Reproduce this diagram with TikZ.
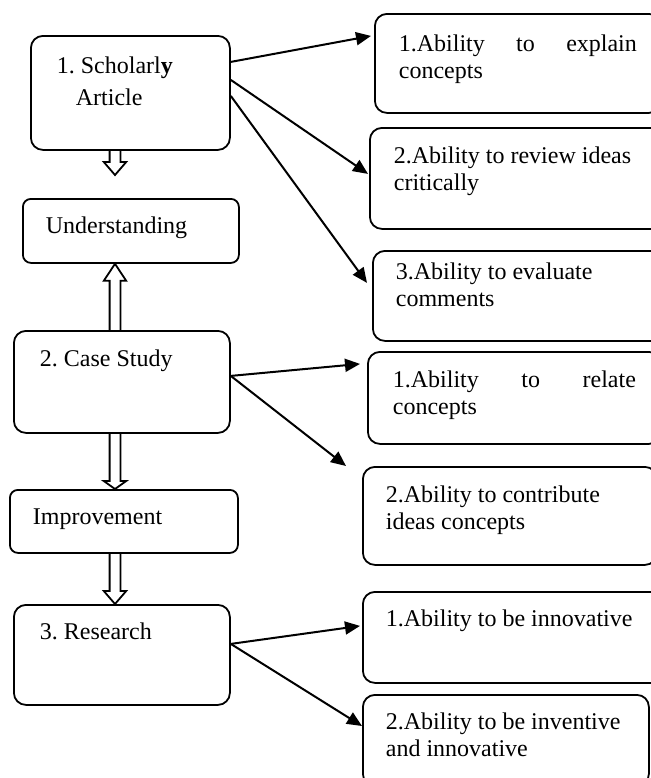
\documentclass[tikz,border=0pt]{standalone}
\usepackage{fontspec}
\setmainfont{Liberation Serif}
\usetikzlibrary{calc, arrows.meta}
\hyphenpenalty=10000
\tolerance=9999
\frenchspacing

\begin{document}
\begin{tikzpicture}[x=0.5pt, y=-0.5pt,
    jbox/.style={draw, line width=0.9pt, rounded corners=6pt, anchor=north west, inner ysep=0pt,
        align=justify, font=\fontsize{12}{13.5}\selectfont},
    box/.style={jbox, align=left,
        execute at begin node={\spaceskip=0pt\xspaceskip=0pt\rightskip=0pt plus 1fil\relax}},
    conn/.style={line width=1pt, -{Triangle[length=7.5pt, width=6.5pt]}},
    hollow/.style={line width=0.9pt, to path={let \p1=(\tikztostart), \p2=(\tikztotarget),
        \n1={sign(\y2-\y1)} in
        (\x1-2.7pt,\y1) -- (\x1-2.7pt,{\y2-(\n1)*#1}) -- (\x1-5.6pt,{\y2-(\n1)*#1}) -- (\x1,\y2)
        -- (\x1+5.6pt,{\y2-(\n1)*#1}) -- (\x1+2.7pt,{\y2-(\n1)*#1}) -- (\x1+2.7pt,\y1)}},
    hollow/.default=6.5pt]
    \useasboundingbox (0,0) rectangle (651,778);
    \clip (0,0) rectangle (651,778);
    \coordinate (mid) at (115,0);

    % left column
    \node[box, text width=73.5pt, inner xsep=13pt, text height=19pt, text depth=38pt]
        (sch) at (30,35) {1. Scholarl\textbf{y}\\[2.5pt]\hspace*{9.5pt}Article};
    \node[box, rounded corners=4pt, text width=85pt, inner xsep=11.5pt, text height=17.5pt, text depth=14.5pt]
        (und) at (22,198) {Understanding};
    \node[box, text width=82pt, inner xsep=13pt, text height=18pt, text depth=33pt]
        (case) at (13,330) {2. Case Study};
    \node[box, rounded corners=4pt, text width=91pt, inner xsep=11.5pt, text height=17.5pt, text depth=14pt]
        (imp) at (9,489) {Improvement};
    \node[box, text width=82pt, inner xsep=13pt, text height=17.5pt, text depth=32.5pt]
        (res) at (13,604) {3. Research};

    % right column
    \node[jbox, text width=119pt, inner xsep=12pt, text height=19pt, text depth=30.5pt]
        (r1) at (374,13) {1.Ability to explain concepts};
    \node[box, text width=124pt, inner xsep=12pt, text height=18pt, text depth=32.5pt]
        (r2) at (369,127) {2.Ability to review ideas critically};
    \node[box, text width=124pt, inner xsep=11.5pt, text height=14.5pt, text depth=30.5pt]
        (r3) at (372,250) {3.Ability to evaluate comments};
    \node[jbox, text width=121.5pt, inner xsep=12.5pt, text height=18pt, text depth=28pt]
        (r4) at (367,351) {1.Ability to relate concepts};
    \node[box, text width=124pt, inner xsep=11.5pt, text height=18pt, text depth=31pt]
        (r5) at (362,466) {2.Ability to contribute ideas concepts};
    \node[box, text width=132pt, inner xsep=11.5pt, text height=17.5pt, text depth=28pt]
        (r6) at (362,591) {1.Ability to be innovative};
    \node[box, text width=120pt, inner xsep=11.5pt, text height=17.5pt, text depth=28pt]
        (r7) at (362,694) {2.Ability to be inventive\\and innovative};

    % hollow arrows
    \draw[hollow] (sch.south -| mid) to ($(und.north -| mid)+(0,-23)$);
    \draw[hollow=8.5pt] (case.north -| mid) to (und.south -| mid);
    \draw[hollow=4pt] (case.south -| mid) to (imp.north -| mid);
    \draw[hollow] (imp.south -| mid) to (res.north -| mid);

    % arrows to the abilities
    \draw[conn] ([yshift=15.5pt]sch.east) -- ([yshift=13.75pt, xshift=-1.5pt]r1.west);
    \draw[conn] ([yshift=6.5pt]sch.east) -- ([yshift=2.25pt, xshift=-0.5pt]r2.west);
    \draw[conn] ([yshift=-1.5pt]sch.east) -- ([yshift=6.5pt, xshift=-2.5pt]r3.west);
    \draw[conn] ([yshift=3pt]case.east) -- ([yshift=17pt, xshift=-3.5pt]r4.west);
    \draw[conn] ([yshift=3pt]case.east) -- ([xshift=-8pt]r5.north west);
    \draw[conn] ([yshift=5.5pt]res.east) -- ([yshift=5.75pt, xshift=-1pt]r6.west);
    \draw[conn] ([yshift=5.5pt]res.east) -- ([yshift=-16pt]r7.north west);
\end{tikzpicture}
\end{document}
